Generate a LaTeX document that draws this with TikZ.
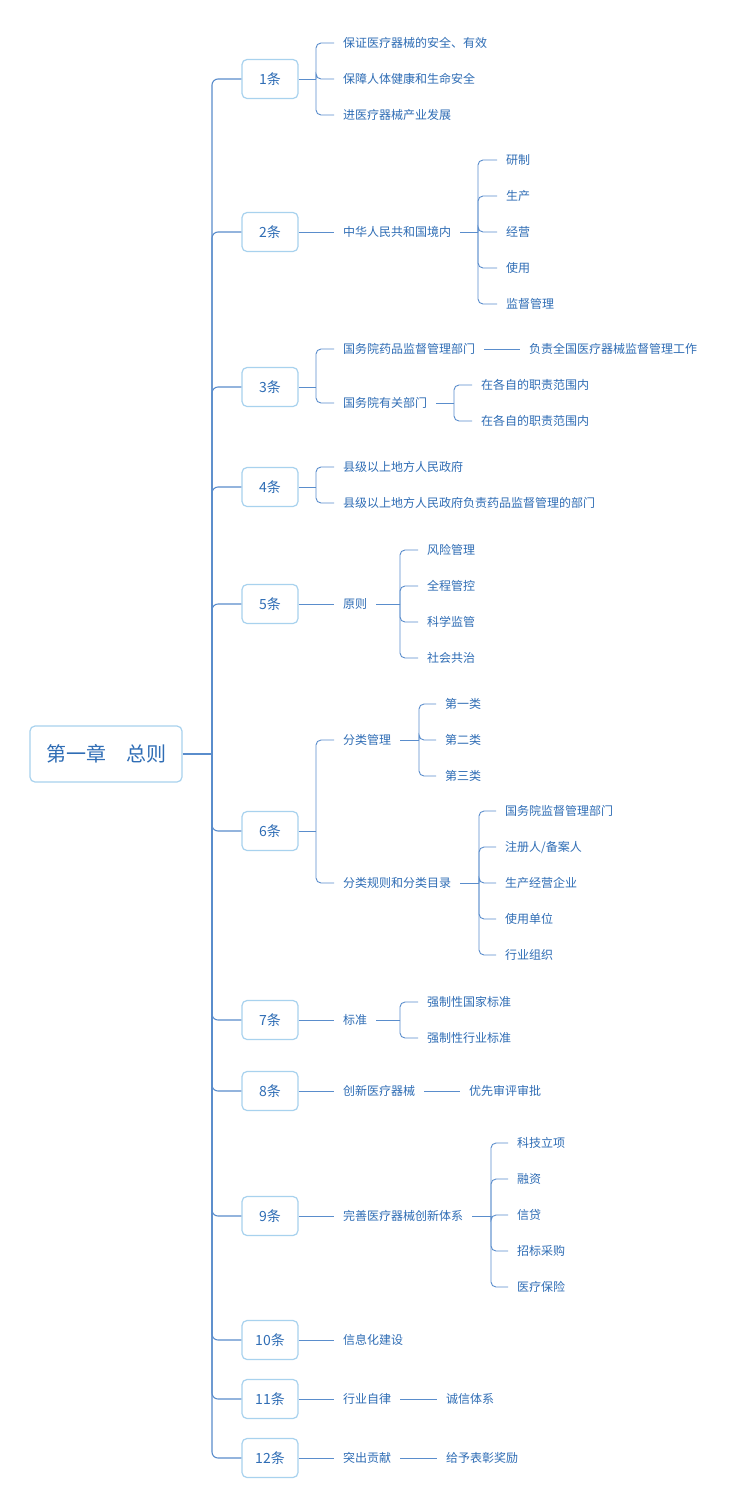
\documentclass[tikz,border=0pt]{standalone}
\usepackage{fontspec}
\setmainfont{Noto Sans CJK SC}
\definecolor{txtc}{HTML}{2F6DB5}
\definecolor{linec}{HTML}{5A8DCC}
\definecolor{boxc}{HTML}{A8D2EE}
\begin{document}
\begin{tikzpicture}[x=1pt,y=-1pt,
  rootbox/.style={draw=boxc, line width=1.2pt, rounded corners=5pt, minimum width=152pt, minimum height=56pt, inner sep=0pt, font=\fontsize{20}{24}\selectfont, text=txtc},
  artbox/.style={draw=boxc, line width=1.2pt, rounded corners=5pt, minimum width=56pt, minimum height=39pt, inner sep=0pt, font=\fontsize{14}{16}\selectfont, text=txtc},
  leaf/.style={anchor=west, inner xsep=9pt, inner ysep=0pt, text height=10pt, text depth=1pt, font=\fontsize{12}{14}\selectfont, text=txtc},
  conn/.style={draw=linec, line width=0.9pt, rounded corners=5pt},
  trunkline/.style={draw=linec, line width=1.1pt, rounded corners=6pt}]
\useasboundingbox (0,0) rectangle (736,1508);
\fill[white] (0,0) rectangle (736,1508);

% root
\node[rootbox] (root) at (106,754) {第一章　总则};
\coordinate (tr) at (212,754);
\draw[draw=linec, line width=2pt] (root.east) -- (tr);

% articles
\node[artbox] (a1) at (270,79) {1条};
\node[artbox] (a2) at (270,232) {2条};
\node[artbox] (a3) at (270,387) {3条};
\node[artbox] (a4) at (270,487) {4条};
\node[artbox] (a5) at (270,604) {5条};
\node[artbox] (a6) at (270,831) {6条};
\node[artbox] (a7) at (270,1020) {7条};
\node[artbox] (a8) at (270,1091) {8条};
\node[artbox] (a9) at (270,1216) {9条};
\node[artbox] (a10) at (270,1340) {10条};
\node[artbox] (a11) at (270,1399) {11条};
\node[artbox] (a12) at (270,1458) {12条};
\foreach \n in {1,...,12} {\draw[trunkline] (tr) |- (a\n.west);}

% 1
\node[leaf] (c1a) at (334,43) {保证医疗器械的安全、有效};
\node[leaf] (c1b) at (334,79) {保障人体健康和生命安全};
\node[leaf] (c1c) at (334,115) {进医疗器械产业发展};
\coordinate (f1) at (316,79);
\draw[conn] (a1.east) -- (f1);
\foreach \c in {c1a,c1b,c1c} {\draw[conn] (f1) |- (\c.west);}

% 2
\node[leaf] (c2) at (334,232) {中华人民共和国境内};
\draw[conn] (a2.east) -- (c2.west);
\node[leaf] (c2a) at (497,160) {研制};
\node[leaf] (c2b) at (497,196) {生产};
\node[leaf] (c2c) at (497,232) {经营};
\node[leaf] (c2d) at (497,268) {使用};
\node[leaf] (c2e) at (497,304) {监督管理};
\coordinate (f2) at (478,232);
\draw[conn] (c2.east) -- (f2);
\foreach \c in {c2a,c2b,c2c,c2d,c2e} {\draw[conn] (f2) |- (\c.west);}

% 3
\node[leaf] (c3a) at (334,349) {国务院药品监督管理部门};
\node[leaf] (c3b) at (334,403) {国务院有关部门};
\coordinate (f3) at (316,387);
\draw[conn] (a3.east) -- (f3);
\foreach \c in {c3a,c3b} {\draw[conn] (f3) |- (\c.west);}
\node[leaf] (c3a1) at (520,349) {负责全国医疗器械监督管理工作};
\draw[conn] (c3a.east) -- (c3a1.west);
\node[leaf] (c3b1) at (472,385) {在各自的职责范围内};
\node[leaf] (c3b2) at (472,421) {在各自的职责范围内};
\coordinate (f3b) at (454,403);
\draw[conn] (c3b.east) -- (f3b);
\foreach \c in {c3b1,c3b2} {\draw[conn] (f3b) |- (\c.west);}

% 4
\node[leaf] (c4a) at (334,467) {县级以上地方人民政府};
\node[leaf] (c4b) at (334,503) {县级以上地方人民政府负责药品监督管理的部门};
\coordinate (f4) at (316,487);
\draw[conn] (a4.east) -- (f4);
\foreach \c in {c4a,c4b} {\draw[conn] (f4) |- (\c.west);}

% 5
\node[leaf] (c5) at (334,604) {原则};
\draw[conn] (a5.east) -- (c5.west);
\node[leaf] (c5a) at (418,550) {风险管理};
\node[leaf] (c5b) at (418,586) {全程管控};
\node[leaf] (c5c) at (418,622) {科学监管};
\node[leaf] (c5d) at (418,658) {社会共治};
\coordinate (f5) at (400,604);
\draw[conn] (c5.east) -- (f5);
\foreach \c in {c5a,c5b,c5c,c5d} {\draw[conn] (f5) |- (\c.west);}

% 6
\node[leaf] (c6a) at (334,740) {分类管理};
\node[leaf] (c6b) at (334,883) {分类规则和分类目录};
\coordinate (f6) at (316,831);
\draw[conn] (a6.east) -- (f6);
\foreach \c in {c6a,c6b} {\draw[conn] (f6) |- (\c.west);}
\node[leaf] (c6a1) at (436,704) {第一类};
\node[leaf] (c6a2) at (436,740) {第二类};
\node[leaf] (c6a3) at (436,776) {第三类};
\coordinate (f6a) at (419,740);
\draw[conn] (c6a.east) -- (f6a);
\foreach \c in {c6a1,c6a2,c6a3} {\draw[conn] (f6a) |- (\c.west);}
\node[leaf] (c6b1) at (496,811) {国务院监督管理部门};
\node[leaf] (c6b2) at (496,847) {注册人/备案人};
\node[leaf] (c6b3) at (496,883) {生产经营企业};
\node[leaf] (c6b4) at (496,919) {使用单位};
\node[leaf] (c6b5) at (496,955) {行业组织};
\coordinate (f6b) at (479,883);
\draw[conn] (c6b.east) -- (f6b);
\foreach \c in {c6b1,c6b2,c6b3,c6b4,c6b5} {\draw[conn] (f6b) |- (\c.west);}

% 7
\node[leaf] (c7) at (334,1020) {标准};
\draw[conn] (a7.east) -- (c7.west);
\node[leaf] (c7a) at (418,1002) {强制性国家标准};
\node[leaf] (c7b) at (418,1038) {强制性行业标准};
\coordinate (f7) at (400,1020);
\draw[conn] (c7.east) -- (f7);
\foreach \c in {c7a,c7b} {\draw[conn] (f7) |- (\c.west);}

% 8
\node[leaf] (c8) at (334,1091) {创新医疗器械};
\draw[conn] (a8.east) -- (c8.west);
\node[leaf] (c8a) at (460,1091) {优先审评审批};
\draw[conn] (c8.east) -- (c8a.west);

% 9
\node[leaf] (c9) at (334,1216) {完善医疗器械创新体系};
\draw[conn] (a9.east) -- (c9.west);
\node[leaf] (c9a) at (508,1143) {科技立项};
\node[leaf] (c9b) at (508,1179) {融资};
\node[leaf] (c9c) at (508,1215) {信贷};
\node[leaf] (c9d) at (508,1251) {招标采购};
\node[leaf] (c9e) at (508,1287) {医疗保险};
\coordinate (f9) at (491,1216);
\draw[conn] (c9.east) -- (f9);
\foreach \c in {c9a,c9b,c9c,c9d,c9e} {\draw[conn] (f9) |- (\c.west);}

% 10
\node[leaf] (c10) at (334,1340) {信息化建设};
\draw[conn] (a10.east) -- (c10.west);

% 11
\node[leaf] (c11) at (334,1399) {行业自律};
\draw[conn] (a11.east) -- (c11.west);
\node[leaf] (c11a) at (437,1399) {诚信体系};
\draw[conn] (c11.east) -- (c11a.west);

% 12
\node[leaf] (c12) at (334,1458) {突出贡献};
\draw[conn] (a12.east) -- (c12.west);
\node[leaf] (c12a) at (437,1458) {给予表彰奖励};
\draw[conn] (c12.east) -- (c12a.west);
\end{tikzpicture}
\end{document}
